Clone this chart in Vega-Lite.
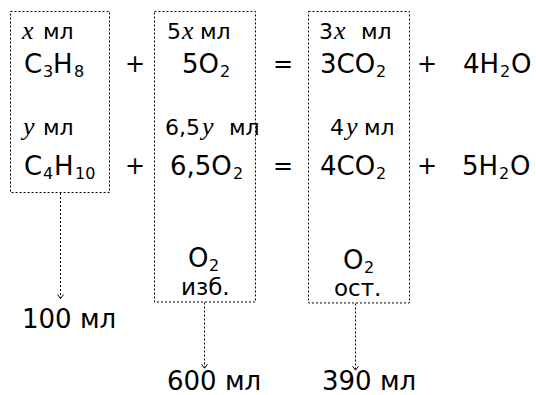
{
  "$schema": "https://vega.github.io/schema/vega-lite/v6.json",
  "width": 536,
  "height": 395,
  "padding": 0,
  "autosize": {"type": "fit", "contains": "padding"},
  "background": "white",
  "config": {"view": {"stroke": null}},
  "datasets": {
    "boxes": [
      {"x": 10.5, "x2": 109.5, "y": 11.5, "y2": 193.5},
      {"x": 154.5, "x2": 255.5, "y": 11.5, "y2": 303.5},
      {"x": 308.5, "x2": 409.5, "y": 11.5, "y2": 304.5}
    ],
    "arrows": [
      {"x": 60.5, "y": 194, "y2": 300},
      {"x": 204.5, "y": 304, "y2": 370},
      {"x": 355.5, "y": 305, "y2": 372}
    ],
    "big": [
      {"t": "C", "x": 24, "y": 73},
      {"t": "H", "x": 53, "y": 73},
      {"t": "5O", "x": 182, "y": 73},
      {"t": "3CO", "x": 320, "y": 73},
      {"t": "4H", "x": 463, "y": 73},
      {"t": "O", "x": 511, "y": 73},
      {"t": "C", "x": 24, "y": 176},
      {"t": "H", "x": 54, "y": 176},
      {"t": "6,5O", "x": 170, "y": 176},
      {"t": "4CO", "x": 320, "y": 176},
      {"t": "5H", "x": 462, "y": 176},
      {"t": "O", "x": 510, "y": 176},
      {"t": "O", "x": 188, "y": 268},
      {"t": "O", "x": 343, "y": 270},
      {"t": "100 мл", "x": 22, "y": 330},
      {"t": "600 мл", "x": 167, "y": 392},
      {"t": "390 мл", "x": 322, "y": 392}
    ],
    "subs": [
      {"t": "3", "x": 43, "y": 77},
      {"t": "8", "x": 74, "y": 77},
      {"t": "2", "x": 220, "y": 77},
      {"t": "2", "x": 376, "y": 77},
      {"t": "2", "x": 500, "y": 77},
      {"t": "4", "x": 43, "y": 180},
      {"t": "10", "x": 75, "y": 180},
      {"t": "2", "x": 233, "y": 180},
      {"t": "2", "x": 376, "y": 180},
      {"t": "2", "x": 499, "y": 180},
      {"t": "2", "x": 209, "y": 272},
      {"t": "2", "x": 364, "y": 274}
    ],
    "ops": [
      {"t": "+", "x": 135, "y": 72},
      {"t": "=", "x": 283, "y": 72},
      {"t": "+", "x": 427, "y": 72},
      {"t": "+", "x": 135, "y": 175},
      {"t": "=", "x": 283, "y": 175},
      {"t": "+", "x": 427, "y": 175}
    ],
    "small": [
      {"t": "мл", "x": 43, "y": 39},
      {"t": "5", "x": 167, "y": 39},
      {"t": "мл", "x": 200, "y": 39},
      {"t": "3", "x": 319, "y": 39},
      {"t": "мл", "x": 361, "y": 39},
      {"t": "мл", "x": 43, "y": 136},
      {"t": "6,5", "x": 165, "y": 136},
      {"t": "мл", "x": 229, "y": 136},
      {"t": "4", "x": 330, "y": 136},
      {"t": "мл", "x": 364, "y": 136}
    ],
    "mid": [
      {"t": "изб.", "x": 181, "y": 297},
      {"t": "ост.", "x": 334, "y": 298}
    ],
    "vars": [
      {"t": "x", "x": 22, "y": 39},
      {"t": "x", "x": 182, "y": 39},
      {"t": "x", "x": 334, "y": 39},
      {"t": "y", "x": 23, "y": 136},
      {"t": "y", "x": 202, "y": 136},
      {"t": "y", "x": 346, "y": 136}
    ]
  },
  "encoding": {
    "x": {"field": "x", "type": "quantitative", "axis": null, "scale": {"domain": [0, 536], "nice": false, "zero": false}},
    "y": {"field": "y", "type": "quantitative", "axis": null, "scale": {"domain": [0, 395], "nice": false, "zero": false, "reverse": true}}
  },
  "layer": [
    {
      "data": {"name": "boxes"},
      "mark": {"type": "rect", "fill": null, "fillOpacity": 0, "stroke": "black", "strokeWidth": 1, "strokeDash": [2, 2]},
      "encoding": {"x2": {"field": "x2"}, "y2": {"field": "y2"}}
    },
    {
      "data": {"name": "arrows"},
      "mark": {"type": "rule", "stroke": "black", "strokeWidth": 1, "strokeDash": [2, 2]},
      "encoding": {"y2": {"field": "y2"}}
    },
    {
      "data": {"name": "arrows"},
      "mark": {"type": "point", "shape": "M-1,-1.3L0,0L1,-1.3", "filled": false, "stroke": "black", "strokeWidth": 1, "size": 36, "opacity": 1},
      "encoding": {"y": {"field": "y2", "type": "quantitative"}}
    },
    {
      "data": {"name": "big"},
      "mark": {"type": "text", "font": "DejaVu Sans", "fontSize": 26, "align": "left", "baseline": "alphabetic", "color": "black"},
      "encoding": {"text": {"field": "t"}}
    },
    {
      "data": {"name": "subs"},
      "mark": {"type": "text", "font": "DejaVu Sans", "fontSize": 16, "align": "left", "baseline": "alphabetic", "color": "black"},
      "encoding": {"text": {"field": "t"}}
    },
    {
      "data": {"name": "ops"},
      "mark": {"type": "text", "font": "DejaVu Sans", "fontSize": 24, "align": "center", "baseline": "alphabetic", "color": "black"},
      "encoding": {"text": {"field": "t"}}
    },
    {
      "data": {"name": "small"},
      "mark": {"type": "text", "font": "DejaVu Sans", "fontSize": 22, "align": "left", "baseline": "alphabetic", "color": "black"},
      "encoding": {"text": {"field": "t"}}
    },
    {
      "data": {"name": "mid"},
      "mark": {"type": "text", "font": "DejaVu Sans", "fontSize": 23, "align": "left", "baseline": "alphabetic", "color": "black"},
      "encoding": {"text": {"field": "t"}}
    },
    {
      "data": {"name": "vars"},
      "mark": {"type": "text", "font": "Liberation Serif", "fontStyle": "italic", "fontSize": 26, "align": "left", "baseline": "alphabetic", "color": "black"},
      "encoding": {"text": {"field": "t"}}
    }
  ]
}
